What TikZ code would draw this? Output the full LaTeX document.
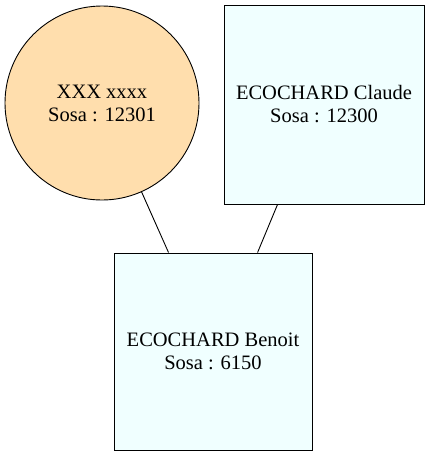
\documentclass[tikz,border=0pt]{standalone}
\usepackage{fontspec}
\setmainfont{Liberation Serif}
\usetikzlibrary{calc}
\begin{document}
\begin{tikzpicture}[x=1pt,y=-1pt,
  person/.style={draw=black, line width=0.9pt, inner sep=0pt, align=center,
    font=\fontsize{20.5}{23}\selectfont},
  female/.style={person, circle, fill={rgb,255:red,255;green,222;blue,173}, minimum size=194pt},
  male/.style={person, rectangle, fill={rgb,255:red,240;green,255;blue,255}},
  link/.style={draw=black, line width=0.9pt}]
\useasboundingbox (0,0) rectangle (429,456);
\node[female] (m) at (102,103) {XXX xxxx\\Sosa : 12301};
\node[male, minimum width=200pt, minimum height=199pt] (f) at (324,104.5) {ECOCHARD Claude\\Sosa : 12300};
\node[male, minimum width=198pt, minimum height=197pt] (c) at (213,351.5) {ECOCHARD Benoit\\Sosa : 6150};
\coordinate (c1) at ($(c.north west)+(55,0)$);
\coordinate (c2) at ($(c.north west)+(144,0)$);
\coordinate (f1) at ($(f.south west)+(54,0)$);
\draw[link] (m.-66) -- (c1);
\draw[link] (f1) -- (c2);
\end{tikzpicture}
\end{document}
